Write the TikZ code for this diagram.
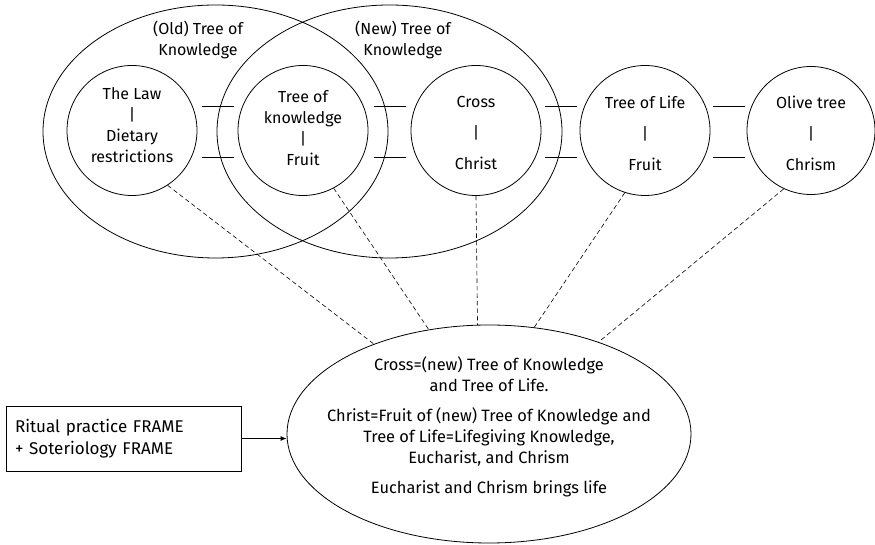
\documentclass[tikz,border=0pt]{standalone}
\usepackage{fontspec}
\setmainfont{Fira Sans}
\usetikzlibrary{shapes.geometric,arrows.meta,calc}

\begin{document}
\begin{tikzpicture}[x=1pt,y=1pt,
  every node/.style={font=\fontsize{16}{21}\selectfont},
  outline/.style={draw, line width=0.8pt},
  circ/.style={outline, circle, minimum size=130pt, inner sep=0pt},
  bigell/.style={outline, ellipse, inner sep=0pt},
  ctext/.style={align=center, inner sep=0pt},
  bar/.style={line width=1.6pt},
  link/.style={line width=0.6pt, dash pattern=on 4.5pt off 3pt},
]
\useasboundingbox (0,0) rectangle (875,545);

% the two overlapping "Tree of Knowledge" domains
\node[bigell, minimum width=345pt, minimum height=253pt] (oldk) at (215.5,413.5) {};
\node[bigell, minimum width=345pt, minimum height=253pt] (newk) at (389.5,413.5) {};
\node[ctext] (oldlbl) at (198,505) {(Old) Tree of\\Knowledge};
\node[ctext] (newlbl) at (403,505) {(New) Tree of\\Knowledge};

% the five tree circles
\node[circ] (law)   at (132,414.5) {};
\node[circ] (tok)   at (303,414.5) {};
\node[circ] (cross) at (476,414.5) {};
\node[circ] (tol)   at (645,414.5) {};
\node[circ, minimum size=128pt] (olive) at (811,414.5) {};

\node[ctext] (lawtxt)   at (132,420) {The Law\\|\\Dietary\\restrictions};
\node[ctext] (toktxt)   at (303,417) {Tree of\\knowledge\\|\\Fruit};
\node[ctext] (crosstxt) at (476,412) {Cross\\[10pt]|\\[10pt]Christ};
\node[ctext] (toltxt)   at (645,412) {Tree of Life\\[10pt]|\\[10pt]Fruit};
\node[ctext] (olivetxt) at (811,412) {Olive tree\\[10pt]|\\[10pt]Chrism};

% double bars between neighbouring circles
\foreach \a/\b in {law/tok, tok/cross, cross/tol, tol/olive}{
  \draw[bar] ($(\a.east)!0.5!(\b.west)+(-16,24)$) -- ++(32,0);
  \draw[bar] ($(\a.east)!0.5!(\b.west)+(-16,-27)$) -- ++(32,0);
}

% synthesis ellipse
\node[bigell, minimum width=404pt, minimum height=218pt] (synth) at (489,111) {};
\node[ctext, font=\fontsize{16.4}{21}\selectfont] (synthtxt) at (489,118)
  {Cross=(new) Tree of Knowledge\\and Tree of Life.\\[9pt]
  Christ=Fruit of (new) Tree of Knowledge and\\Tree of Life=Lifegiving Knowledge,\\Eucharist, and Chrism\\[9pt]
  Eucharist and Chrism brings life};

% dashed links into the synthesis
\draw[link] (law.-57)   -- (synth.142);
\draw[link] (tok.-62)   -- (synth.120);
\draw[link] (cross.-90) -- (synth.96);
\draw[link] (tol.-108)  -- (synth.67);
\draw[link] (olive.-115) -- (synth.40);

% frame box and arrow
\node[draw, line width=0.8pt, minimum width=235pt, minimum height=65pt,
      text width=217pt, inner xsep=9pt, align=left,
      font=\fontsize{17}{22}\selectfont] (frame) at (123.5,106.5)
      {Ritual practice FRAME\\+ Soteriology FRAME};
\draw[line width=0.8pt, -{Latex[length=6pt,width=5pt]}] (frame.east) -- (frame.east -| synth.west);
\end{tikzpicture}
\end{document}
